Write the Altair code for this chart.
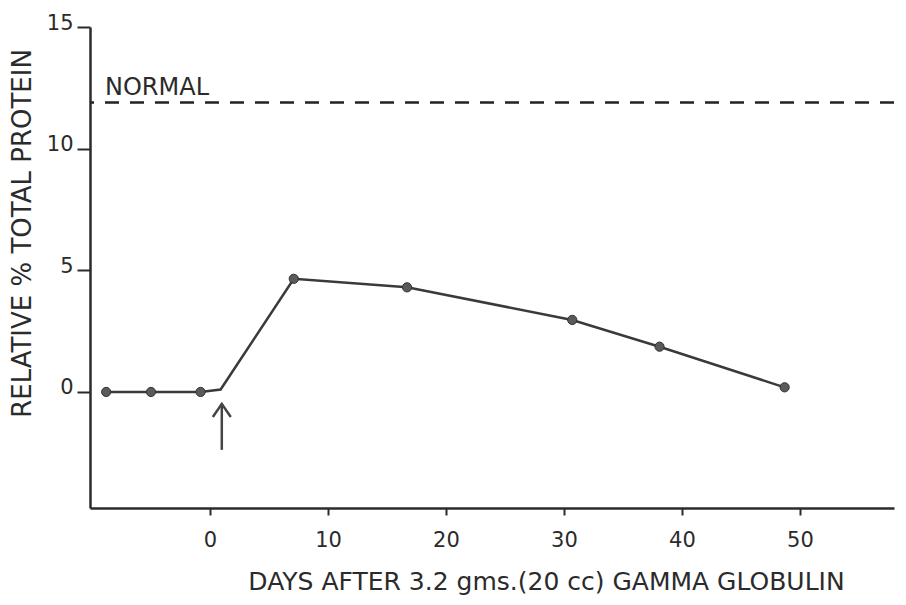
import altair as alt
import pandas as pd

# ---- data ----
days = [-8.8, -5.0, -0.8, 0.9, 7.1, 16.7, 30.7, 38.1, 48.7]
rel_protein = [0.0, 0.0, 0.0, 0.1, 4.65, 4.3, 2.96, 1.86, 0.19]
marked = [True, True, True, False, True, True, True, True, True]

normal_level = [11.9]
normal_label = ["NORMAL"]

injection_day = [1.0]
arrow_tail = [-2.38]
arrow_tip = [-0.49]

x_ticks = [0, 10, 20, 30, 40, 50]
y_ticks = [0, 5, 10, 15]
x_domain = [-10.17, 57.97]
y_domain = [-4.77, 15]

x_title = "DAYS AFTER 3.2 gms.(20 cc) GAMMA GLOBULIN"
y_title = "RELATIVE % TOTAL PROTEIN"

INK = "#2b2b2b"
FONT = "DejaVu Sans"

series = pd.DataFrame({"day": days, "value": rel_protein, "marked": marked})
normal_df = pd.DataFrame({"level": normal_level, "label": normal_label})
arrow_df = pd.DataFrame({"day": injection_day, "tail": arrow_tail, "tip": arrow_tip})

x_scale = alt.Scale(domain=x_domain, nice=False, zero=False)
y_scale = alt.Scale(domain=y_domain, nice=False, zero=False)

x_axis = alt.Axis(
    values=x_ticks, title=x_title, grid=False,
    tickSize=7, tickWidth=2, tickColor=INK,
    domainWidth=2.5, domainColor=INK,
    labelPadding=14, labelFontSize=21, labelFont=FONT, labelColor=INK,
    titleFontSize=25, titleFont=FONT, titleFontWeight="normal", titleColor=INK,
    titleX=456, titleY=73, titleAlign="center", titleBaseline="middle",
)
y_axis = alt.Axis(
    values=y_ticks, title=y_title, grid=False,
    tickSize=13, tickWidth=2, tickColor=INK,
    domainWidth=2.5, domainColor=INK,
    labelPadding=4, labelOffset=-4, labelFontSize=21, labelFont=FONT, labelColor=INK,
    titleFontSize=26, titleFont=FONT, titleFontWeight="normal", titleColor=INK,
    titleX=-68, titleY=206, titleAngle=270, titleAlign="center", titleBaseline="middle",
)

base = alt.Chart(series)

line = base.mark_line(color="#3a3a3a", strokeWidth=2.5).encode(
    x=alt.X("day:Q", scale=x_scale, axis=x_axis),
    y=alt.Y("value:Q", scale=y_scale, axis=y_axis),
)

points = base.transform_filter("datum.marked").mark_point(
    filled=True, size=85, color="#5a5a5a", stroke="#333333", strokeWidth=1, opacity=1
).encode(
    x=alt.X("day:Q", scale=x_scale),
    y=alt.Y("value:Q", scale=y_scale),
)

normal_rule = alt.Chart(normal_df).mark_rule(
    color="#222222", strokeWidth=2.5, strokeDash=[14, 11]
).encode(y=alt.Y("level:Q", scale=y_scale))

normal_text = alt.Chart(normal_df).mark_text(
    align="left", baseline="alphabetic", dy=-7, font=FONT, fontSize=24, color=INK
).encode(
    x=alt.value(15),
    y=alt.Y("level:Q", scale=y_scale),
    text="label:N",
)

arrow_shaft = alt.Chart(arrow_df).mark_rule(color="#444444", strokeWidth=2.5).encode(
    x=alt.X("day:Q", scale=x_scale),
    y=alt.Y("tail:Q", scale=y_scale),
    y2="tip:Q",
)

arrow_head = alt.Chart(arrow_df).mark_point(
    shape="M -1 1.45 L 0 0 L 1 1.45", filled=False, size=324,
    color="#444444", strokeWidth=2.5, opacity=1
).encode(
    x=alt.X("day:Q", scale=x_scale),
    y=alt.Y("tip:Q", scale=y_scale),
)

chart = alt.layer(
    normal_rule, normal_text, line, points, arrow_shaft, arrow_head
).properties(
    width=804, height=481,
    autosize=alt.AutoSizeParams(type="none"),
    padding={"left": 82, "top": 19, "right": 2, "bottom": 89},
    background="white",
).configure_view(strokeWidth=0)

chart.save("out.html", embed_options={"renderer": "svg", "actions": False})
